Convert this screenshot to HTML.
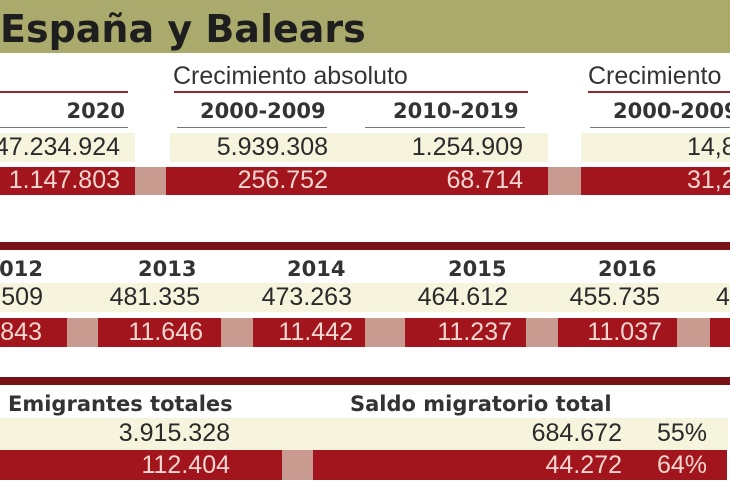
<!DOCTYPE html>
<html><head><meta charset="utf-8"><style>
body{margin:0;width:730px;height:500px;background:#fff;overflow:hidden;position:relative;font-family:"DejaVu Sans","Liberation Sans",sans-serif;}
div{position:absolute;box-sizing:border-box;}
.cr{background:#f7f4de;}
.rd{background:#a3151d;}
.gp{background:#c99a8f;}
.t{white-space:nowrap;color:#222;}
.n{font-family:"Liberation Sans",sans-serif;font-size:25px;line-height:29px;color:#2a2a2a;text-align:right;}
.w{color:#f3d6cf;}
.y{font-size:21px;font-weight:bold;color:#333;}
</style></head><body>
<div style="left:0;top:0;width:730px;height:53px;background:#a9aa6b"></div>
<div class="t" style="left:0;top:10px;font:bold 38px/1 'DejaVu Sans',sans-serif;color:#1e1e1e">España y Balears</div>

<!-- section 1 -->
<div class="t" style="left:173px;top:62px;font:25px/29px 'Liberation Sans',sans-serif;color:#333">Crecimiento absoluto</div>
<div class="t" style="left:588px;top:62px;font:25px/29px 'Liberation Sans',sans-serif;color:#333">Crecimiento</div>
<div style="left:0;top:91px;width:128px;height:2px;background:#8b2a2a"></div>
<div style="left:174px;top:91px;width:354px;height:2px;background:#8b2a2a"></div>
<div style="left:588px;top:91px;width:142px;height:2px;background:#8b2a2a"></div>
<div class="t y" style="left:0;width:125px;text-align:right;top:99px">2020</div>
<div class="t y" style="left:200px;top:99px">2000-2009</div>
<div class="t y" style="left:393px;top:99px">2010-2019</div>
<div class="t y" style="left:613px;top:99px">2000-2009</div>
<div style="left:0;top:127px;width:128px;height:1px;background:#777"></div>
<div style="left:177px;top:127px;width:150px;height:1px;background:#777"></div>
<div style="left:365px;top:127px;width:160px;height:1px;background:#777"></div>
<div style="left:590px;top:127px;width:140px;height:1px;background:#777"></div>
<div class="cr" style="left:0;top:133px;width:135px;height:29px"></div>
<div class="cr" style="left:170px;top:133px;width:378px;height:29px"></div>
<div class="cr" style="left:581px;top:133px;width:149px;height:29px"></div>
<div class="rd" style="left:0;top:167px;width:135px;height:28px"></div>
<div class="gp" style="left:135px;top:167px;width:31px;height:28px"></div>
<div class="rd" style="left:166px;top:167px;width:382px;height:28px"></div>
<div class="gp" style="left:548px;top:167px;width:33px;height:28px"></div>
<div class="rd" style="left:581px;top:167px;width:149px;height:28px"></div>
<div class="t n" style="right:610px;top:133px">47.234.924</div>
<div class="t n" style="right:402px;top:133px">5.939.308</div>
<div class="t n" style="right:207px;top:133px">1.254.909</div>
<div class="t n" style="left:687px;top:133px;text-align:left">14,8</div>
<div class="t n w" style="right:610px;top:166px">1.147.803</div>
<div class="t n w" style="right:402px;top:166px">256.752</div>
<div class="t n w" style="right:207px;top:166px">68.714</div>
<div class="t n w" style="left:687px;top:166px;text-align:left">31,2</div>

<!-- section 2 -->
<div style="left:0;top:242px;width:730px;height:8px;background:#761218"></div>
<div class="t y" style="right:687px;top:257px">012</div>
<div class="t y" style="left:138px;top:257px">2013</div>
<div class="t y" style="left:287px;top:257px">2014</div>
<div class="t y" style="left:448px;top:257px">2015</div>
<div class="t y" style="left:598px;top:257px">2016</div>
<div class="cr" style="left:0;top:283px;width:730px;height:29px"></div>
<div class="rd" style="left:0;top:318px;width:67px;height:29px"></div>
<div class="gp" style="left:67px;top:318px;width:31px;height:29px"></div>
<div class="rd" style="left:98px;top:318px;width:123px;height:29px"></div>
<div class="gp" style="left:221px;top:318px;width:32px;height:29px"></div>
<div class="rd" style="left:253px;top:318px;width:152px;height:29px"></div>
<div class="gp" style="left:365px;top:318px;width:40px;height:29px"></div>
<div class="rd" style="left:405px;top:318px;width:121px;height:29px"></div>
<div class="gp" style="left:526px;top:318px;width:32px;height:29px"></div>
<div class="rd" style="left:558px;top:318px;width:119px;height:29px"></div>
<div class="gp" style="left:677px;top:318px;width:33px;height:29px"></div>
<div class="rd" style="left:710px;top:318px;width:20px;height:29px"></div>
<div class="t n" style="right:687px;top:283px">.509</div>
<div class="t n" style="right:530px;top:283px">481.335</div>
<div class="t n" style="right:378px;top:283px">473.263</div>
<div class="t n" style="right:222px;top:283px">464.612</div>
<div class="t n" style="right:70px;top:283px">455.735</div>
<div class="t n" style="left:716px;top:283px;text-align:left">4</div>
<div class="t n w" style="right:688px;top:318px">843</div>
<div class="t n w" style="right:527px;top:318px">11.646</div>
<div class="t n w" style="right:377px;top:318px">11.442</div>
<div class="t n w" style="right:218px;top:318px">11.237</div>
<div class="t n w" style="right:68px;top:318px">11.037</div>

<!-- section 3 -->
<div style="left:0;top:377px;width:730px;height:8px;background:#761218"></div>
<div class="t" style="left:8px;top:391px;font:bold 21px/26px 'DejaVu Sans',sans-serif;color:#333">Emigrantes totales</div>
<div class="t" style="left:350px;top:391px;font:bold 21px/26px 'DejaVu Sans',sans-serif;color:#333">Saldo migratorio total</div>
<div class="cr" style="left:0;top:418px;width:728px;height:32px"></div>
<div class="rd" style="left:0;top:450px;width:282px;height:30px"></div>
<div class="gp" style="left:282px;top:450px;width:31px;height:30px"></div>
<div class="rd" style="left:313px;top:450px;width:414px;height:30px"></div>
<div class="t n" style="right:500px;top:419px">3.915.328</div>
<div class="t n" style="right:108px;top:419px">684.672</div>
<div class="t n" style="right:23px;top:419px">55%</div>
<div class="t n w" style="right:500px;top:451px">112.404</div>
<div class="t n w" style="right:108px;top:451px">44.272</div>
<div class="t n w" style="right:23px;top:451px">64%</div>
</body></html>
